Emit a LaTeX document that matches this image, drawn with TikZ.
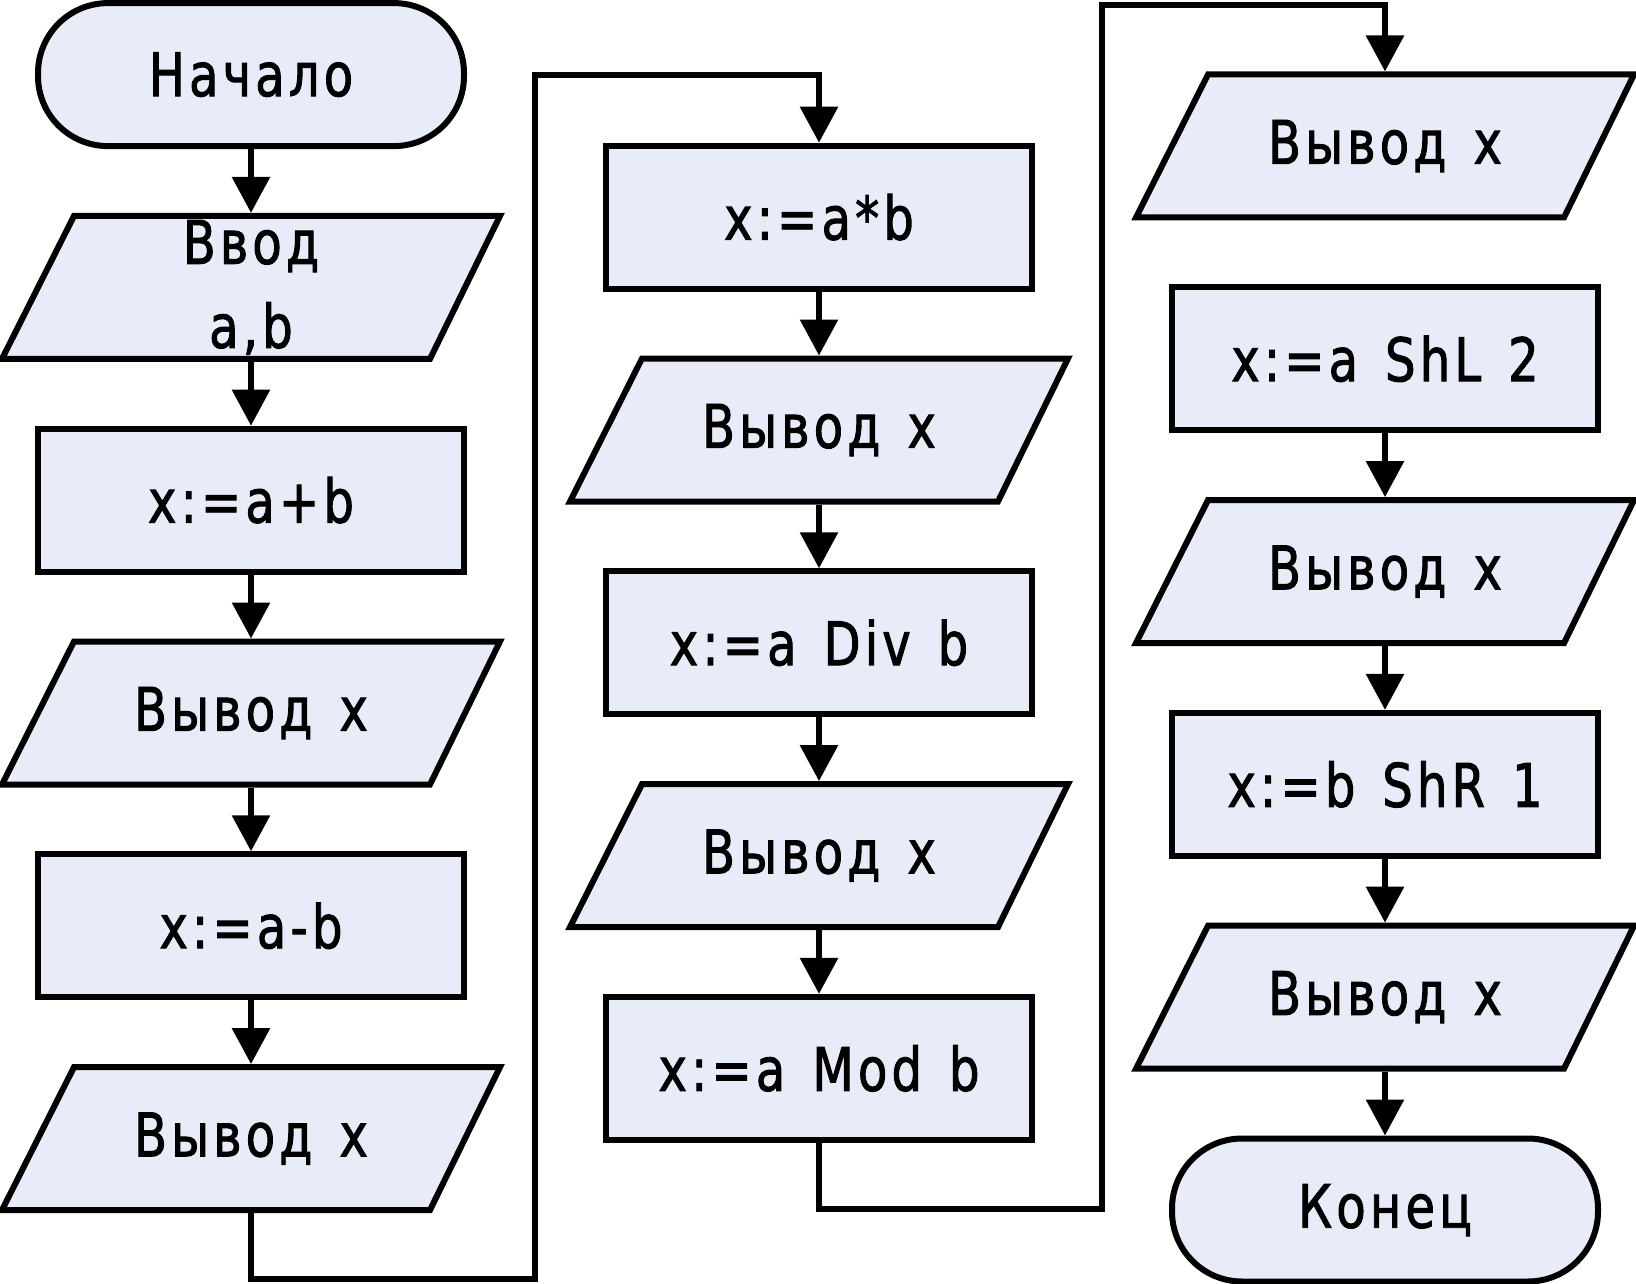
\documentclass[tikz,border=0pt]{standalone}
\usepackage{fontspec}
\setmainfont[FakeStretch=0.8,LetterSpace=7,FakeBold=1.6]{DejaVu Sans}
\usetikzlibrary{arrows.meta,backgrounds}
\definecolor{blockfill}{RGB}{232,236,248}
\newcommand\wsp{\hspace{0.45em}}
\begin{document}
\begin{tikzpicture}[x=1pt,y=-1pt,
  txt/.style={font=\fontsize{60}{84}\selectfont, align=center, inner sep=0pt},
  box/.style={txt, draw, line width=6pt, fill=blockfill, minimum width=426pt, minimum height=143pt},
  term/.style={box, rounded corners=70pt},
  io/.style={txt, minimum width=424pt, minimum height=143pt, outer sep=3pt},
  para/.style={draw, line width=6pt, fill=blockfill},
  arr/.style={line width=6pt, -{Triangle[length=36pt,width=37pt]}},
]
\useasboundingbox (0,0) rectangle (1636,1284);
% column 1
\node[term] (start) at (251,74.6) {Начало};
\node[io]   (in)    at (251,287.4) {Ввод\\a,b};
\node[box]  (s1)    at (251,500.2) {x:=a+b};
\node[io]   (o1)    at (251,713) {Вывод\wsp x};
\node[box]  (s2)    at (251,925.8) {x:=a-b};
\node[io]   (o2)    at (251,1138.6) {Вывод\wsp x};
% column 2
\node[box]  (s3)    at (819,217.2) {x:=a*b};
\node[io]   (o3)    at (819,430) {Вывод\wsp x};
\node[box]  (s4)    at (819,642.8) {x:=a\wsp Div\wsp b};
\node[io]   (o4)    at (819,855.6) {Вывод\wsp x};
\node[box]  (s5)    at (819,1068.4) {x:=a\wsp Mod\wsp b};
% column 3
\node[io]   (o5)    at (1385,146) {Вывод\wsp x};
\node[box]  (s6)    at (1385,358.8) {x:=a\wsp ShL\wsp 2};
\node[io]   (o6)    at (1385,571.6) {Вывод\wsp x};
\node[box]  (s7)    at (1385,784.4) {x:=b\wsp ShR\wsp 1};
\node[io]   (o7)    at (1385,997.2) {Вывод\wsp x};
\node[term] (stop)  at (1385,1210) {Конец};
% parallelograms behind the io texts
\begin{scope}[on background layer]
  \fill[white] (0,0) rectangle (1636,1284);
  \foreach \n in {in,o1,o2,o3,o4,o5,o6,o7}{
    \draw[para] ([xshift=38pt,yshift=-3pt]\n.north west) -- ([xshift=34pt,yshift=-3pt]\n.north east)
      -- ([xshift=-36pt,yshift=3pt]\n.south east) -- ([xshift=-34pt,yshift=3pt]\n.south west) -- cycle;
  }
\end{scope}
% routing points
\coordinate (a1) at (251,1279);
\coordinate (a2) at (535,1279);
\coordinate (a3) at (535,75);
\coordinate (a4) at (819,75);
\coordinate (b1) at (819,1209);
\coordinate (b2) at (1102,1209);
\coordinate (b3) at (1102,5);
\coordinate (b4) at (1385,5);
% connectors
\draw[arr] (start) -- (in);
\draw[arr] (in) -- (s1);
\draw[arr] (s1) -- (o1);
\draw[arr] (o1) -- (s2);
\draw[arr] (s2) -- (o2);
\draw[arr] (o2.south) -- (a1) -- (a2) -- (a3) -- (a4) -- (s3.north);
\draw[arr] (s3) -- (o3);
\draw[arr] (o3) -- (s4);
\draw[arr] (s4) -- (o4);
\draw[arr] (o4) -- (s5);
\draw[arr] (s5.south) -- (b1) -- (b2) -- (b3) -- (b4) -- (o5.north);
\draw[arr] (s6) -- (o6);
\draw[arr] (o6) -- (s7);
\draw[arr] (s7) -- (o7);
\draw[arr] (o7) -- (stop);
\end{tikzpicture}
\end{document}
